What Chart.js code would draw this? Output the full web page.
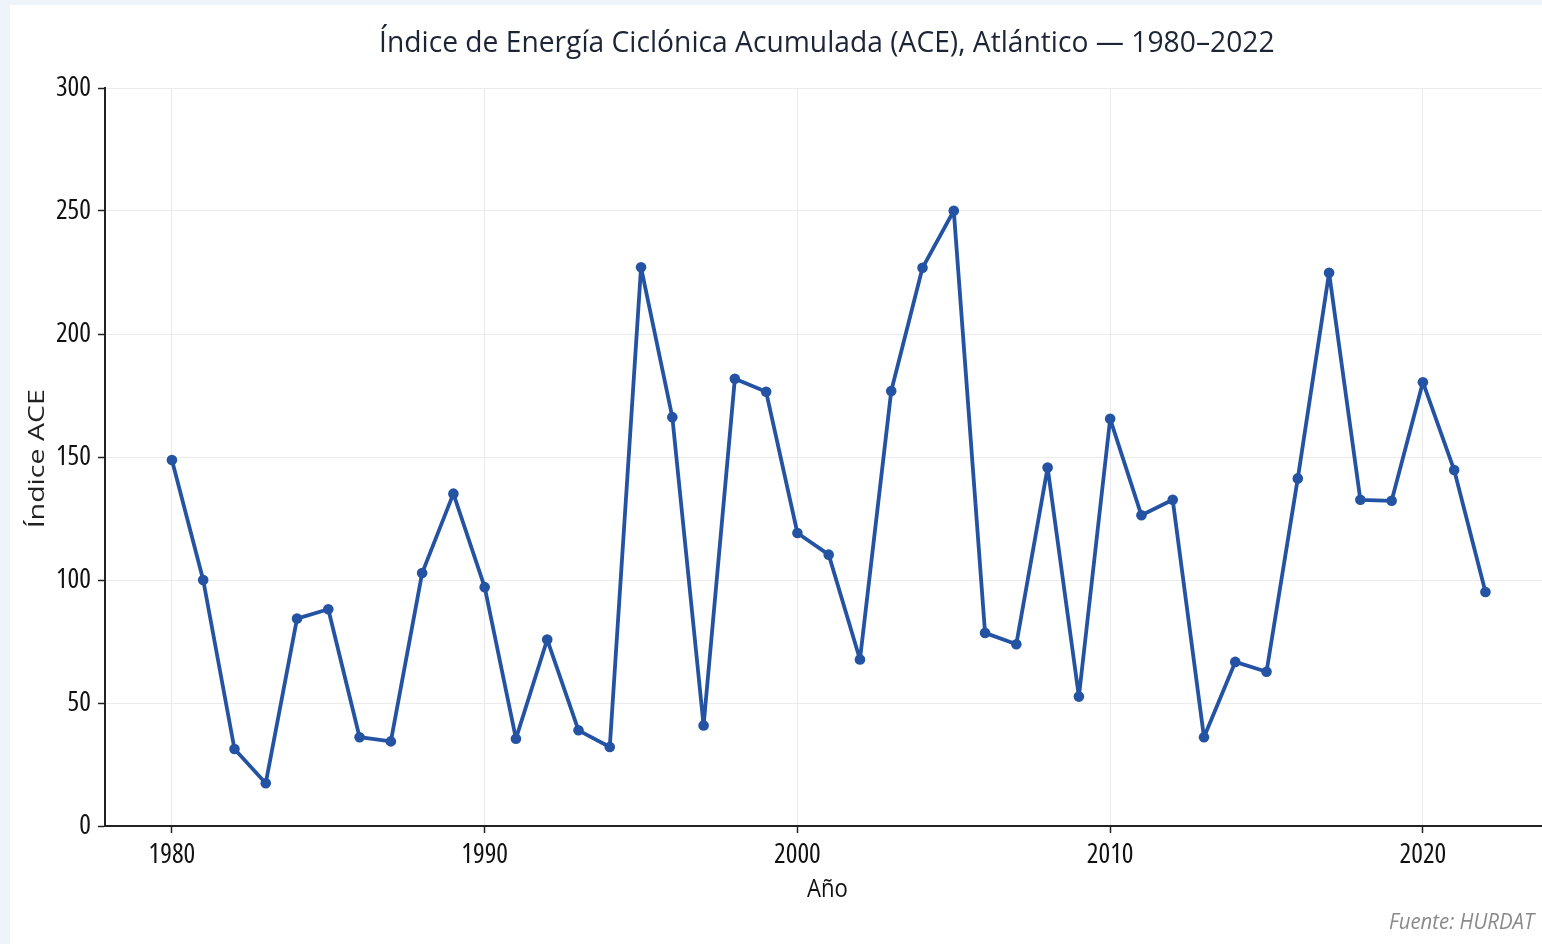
<!DOCTYPE html>
<html>
<head>
<meta charset="utf-8">
<script src="https://cdn.jsdelivr.net/npm/chart.js@4.4.1/dist/chart.umd.min.js"></script>
<style>
  html, body { margin: 0; padding: 0; width: 1542px; height: 944px; overflow: hidden; background: #eef4f9; }
  #card { position: absolute; left: 10px; top: 5px; width: 1560px; height: 960px; background: #ffffff; }
  #c { position: absolute; left: 0; top: 0; }
</style>
</head>
<body>
<div id="card"></div>
<canvas id="c" width="1654" height="944" style="width:1654px;height:944px"></canvas>
<script>
const years = [1980,1981,1982,1983,1984,1985,1986,1987,1988,1989,
               1990,1991,1992,1993,1994,1995,1996,1997,1998,1999,
               2000,2001,2002,2003,2004,2005,2006,2007,2008,2009,
               2010,2011,2012,2013,2014,2015,2016,2017,2018,2019,
               2020,2021,2022];
const ace = [148.8,100.0,31.3,17.4,84.3,88.1,36.1,34.4,102.8,135.1,
             97.1,35.5,75.8,38.9,32.1,227.1,166.2,40.9,181.8,176.5,
             119.1,110.3,67.7,176.8,226.9,250.1,78.5,73.9,145.7,52.6,
             165.5,126.3,132.6,36.1,66.7,62.7,141.3,224.9,132.6,132.2,
             180.4,144.7,95.1];
const xTicks = [1980,1990,2000,2010,2020];
const yTicks = [0,50,100,150,200,250,300];
const titleText = 'Índice de Energía Ciclónica Acumulada (ACE), Atlántico — 1980–2022';
const xLabel = 'Año';
const yLabel = 'Índice ACE';
const sourceText = 'Fuente: HURDAT';

const FAM = "'Open Sans', 'Noto Sans', sans-serif";
const TICK_W = 'semi-condensed';
const points = years.map((y, i) => ({ x: y, y: ace[i] }));

// draws text so that its ink box spans a given length along the text direction
function fitText(ctx, text, o) {
  ctx.save();
  ctx.font = `${o.italic ? 'italic ' : ''}${o.size}px ${FAM}`;
  ctx.fillStyle = o.color;
  ctx.textAlign = 'left';
  ctx.textBaseline = 'alphabetic';
  const m = ctx.measureText(text);
  const ink = m.actualBoundingBoxLeft + m.actualBoundingBoxRight;
  const sx = o.length / ink;
  ctx.translate(o.x, o.y);
  if (o.rotate) ctx.rotate(-Math.PI / 2);
  ctx.scale(sx, 1);
  ctx.fillText(text, m.actualBoundingBoxLeft, 0);
  ctx.restore();
}

const textPlugin = {
  id: 'texts',
  afterDraw(chart) {
    const ctx = chart.ctx;
    fitText(ctx, titleText, { x: 381, y: 52, length: 892, size: 29, color: '#1c2536' });
    fitText(ctx, xLabel, { x: 807, y: 896.5, length: 40, size: 25, color: '#111111' });
    fitText(ctx, yLabel, { x: 43.5, y: 527, length: 137, size: 21, color: '#222222', rotate: true });
    fitText(ctx, sourceText, { x: 1389, y: 929, length: 147, size: 22, color: '#8a8a8a', italic: true });
  }
};

new Chart(document.getElementById('c'), {
  type: 'line',
  data: {
    datasets: [{
      data: points,
      borderColor: '#2453a3',
      backgroundColor: '#2453a3',
      borderWidth: 3.8,
      borderJoinStyle: 'round',
      borderCapStyle: 'round',
      pointRadius: 5.3,
      pointBackgroundColor: '#2453a3',
      pointBorderWidth: 0,
      tension: 0
    }]
  },
  plugins: [textPlugin],
  options: {
    responsive: false,
    animation: false,
    devicePixelRatio: 1,
    layout: { padding: { left: 0, right: 106, top: 88, bottom: 0 } },
    plugins: {
      legend: { display: false },
      tooltip: { enabled: false },
      title: { display: false }
    },
    scales: {
      x: {
        type: 'linear',
        min: 1977.86,
        max: 2024.0,
        afterBuildTicks: (s) => { s.ticks = xTicks.map(v => ({ value: v })); },
        afterFit: (s) => { s.height = 118; },
        grid: { color: '#ebebeb', lineWidth: 1, drawTicks: true, tickLength: 7, tickColor: '#222', tickWidth: 1.5 },
        border: { color: '#222', width: 2 },
        ticks: {
          color: '#111',
          padding: 6,
          maxRotation: 0,
          autoSkip: false,
          font: { family: FAM, size: 27.5, weight: TICK_W, lineHeight: 1.2 },
          callback: (v) => String(v)
        }
      },
      y: {
        type: 'linear',
        min: 0,
        max: 300,
        afterBuildTicks: (s) => { s.ticks = yTicks.map(v => ({ value: v })); },
        afterFit: (s) => { s.width = 105; },
        grid: { color: '#ebebeb', lineWidth: 1, drawTicks: true, tickLength: 7, tickColor: '#222', tickWidth: 1.5 },
        border: { color: '#222', width: 2 },
        ticks: {
          color: '#111',
          padding: 7,
          autoSkip: false,
          font: { family: FAM, size: 27.5, weight: TICK_W, lineHeight: 1.2 },
          callback: (v) => String(v)
        }
      }
    }
  }
});
</script>
</body>
</html>
